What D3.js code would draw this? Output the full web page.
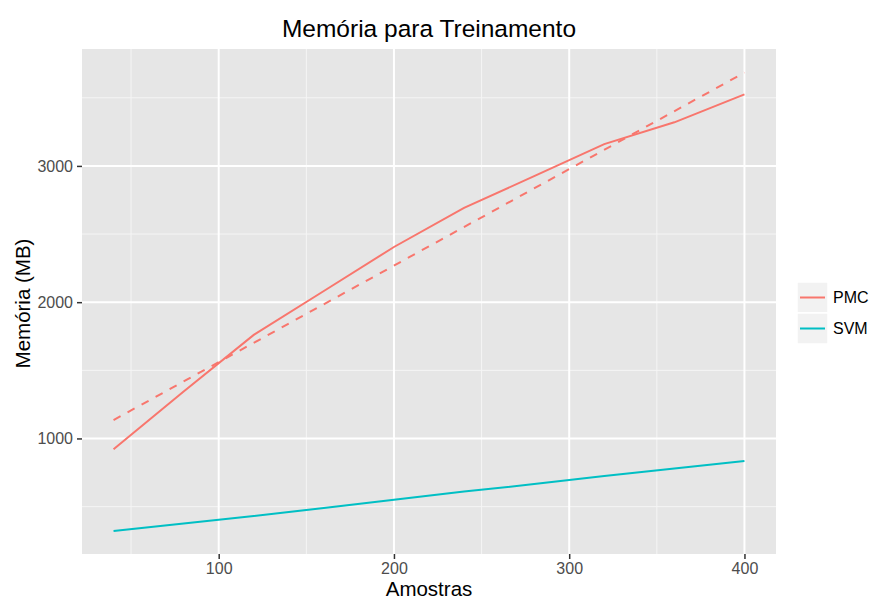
<!DOCTYPE html>
<html>
<head>
<meta charset="utf-8">
<script src="https://cdn.jsdelivr.net/npm/d3@7"></script>
<style>
  html, body { margin: 0; padding: 0; background: #ffffff; }
  svg { display: block; font-family: "Liberation Sans", Arial, Helvetica, sans-serif; }
</style>
</head>
<body>
<svg id="chart" width="871" height="601"></svg>
<script>
// Training memory (MB) against number of samples
const amostras = [40, 80, 120, 160, 200, 240, 280, 320, 360, 400];
const memoriaPMC = [920, 1345, 1760, 2082, 2405, 2692, 2925, 3160, 3320, 3525];
const memoriaSVM = [320, 375, 430, 490, 550, 610, 665, 725, 780, 835];
// Straight reference trend for PMC (dashed), given by its end points
const tendenciaX = [40, 400];
const tendenciaPMC = [1135, 3685];

const xTicks = [100, 200, 300, 400];
const xMinor = [50, 150, 250, 350];
const yTicks = [1000, 2000, 3000];
const yMinor = [500, 1500, 2500, 3500];

const seriesNames = ["PMC", "SVM"];
const seriesColors = ["#F8766D", "#00BFC4"];

const svg = d3.select("#chart");
const panel = { left: 82, right: 776, top: 49, bottom: 554 };

const x = d3.scaleLinear().domain([22, 418]).range([panel.left, panel.right]);
const y = d3.scaleLinear().domain([152, 3858]).range([panel.bottom, panel.top]);

// Panel background
svg.append("rect")
  .attr("x", panel.left).attr("y", panel.top)
  .attr("width", panel.right - panel.left)
  .attr("height", panel.bottom - panel.top)
  .attr("fill", "#E6E6E6");

const grid = svg.append("g");
// minor grid
grid.selectAll("line.xminor").data(xMinor).join("line")
  .attr("x1", d => x(d)).attr("x2", d => x(d))
  .attr("y1", panel.top).attr("y2", panel.bottom)
  .attr("stroke", "#F5F5F5").attr("stroke-width", 1);
grid.selectAll("line.yminor").data(yMinor).join("line")
  .attr("y1", d => y(d)).attr("y2", d => y(d))
  .attr("x1", panel.left).attr("x2", panel.right)
  .attr("stroke", "#F5F5F5").attr("stroke-width", 1);
// major grid
grid.selectAll("line.xmajor").data(xTicks).join("line")
  .attr("x1", d => x(d)).attr("x2", d => x(d))
  .attr("y1", panel.top).attr("y2", panel.bottom)
  .attr("stroke", "#ffffff").attr("stroke-width", 2);
grid.selectAll("line.ymajor").data(yTicks).join("line")
  .attr("y1", d => y(d)).attr("y2", d => y(d))
  .attr("x1", panel.left).attr("x2", panel.right)
  .attr("stroke", "#ffffff").attr("stroke-width", 2);

// Axes
const xAxis = svg.append("g")
  .attr("transform", `translate(0,${panel.bottom})`)
  .call(d3.axisBottom(x).tickValues(xTicks).tickSize(5).tickPadding(4).tickFormat(d3.format("d")));
const yAxis = svg.append("g")
  .attr("transform", `translate(${panel.left},0)`)
  .call(d3.axisLeft(y).tickValues(yTicks).tickSize(5).tickPadding(4).tickFormat(d3.format("d")));
[xAxis, yAxis].forEach(a => {
  a.select(".domain").remove();
  a.selectAll(".tick line").attr("stroke", "#333333").attr("stroke-width", 1.5);
  a.selectAll(".tick text")
    .attr("fill", "#4D4D4D")
    .style("font-size", "16px")
    .style("font-family", "\"Liberation Sans\", Arial, sans-serif");
});

// Lines
const line = d3.line().x(d => x(d[0])).y(d => y(d[1]));
const plot = svg.append("g");

plot.append("path")
  .datum(tendenciaX.map((v, i) => [v, tendenciaPMC[i]]))
  .attr("d", line)
  .attr("fill", "none")
  .attr("stroke", seriesColors[0])
  .attr("stroke-width", 2)
  .attr("stroke-dasharray", "8,8");

plot.append("path")
  .datum(amostras.map((v, i) => [v, memoriaPMC[i]]))
  .attr("d", line)
  .attr("fill", "none")
  .attr("stroke", seriesColors[0])
  .attr("stroke-width", 2);

plot.append("path")
  .datum(amostras.map((v, i) => [v, memoriaSVM[i]]))
  .attr("d", line)
  .attr("fill", "none")
  .attr("stroke", seriesColors[1])
  .attr("stroke-width", 2);

// Titles
svg.append("text")
  .attr("x", (panel.left + panel.right) / 2).attr("y", 37)
  .attr("text-anchor", "middle")
  .style("font-size", "24.5px")
  .attr("fill", "#000000")
  .text("Memória para Treinamento");

svg.append("text")
  .attr("x", (panel.left + panel.right) / 2).attr("y", 596)
  .attr("text-anchor", "middle")
  .style("font-size", "20.5px")
  .attr("fill", "#000000")
  .text("Amostras");

svg.append("text")
  .attr("transform", `translate(30,${(panel.top + panel.bottom) / 2 + 2}) rotate(-90)`)
  .attr("text-anchor", "middle")
  .style("font-size", "20.5px")
  .attr("fill", "#000000")
  .text("Memória (MB)");

// Legend
const legend = svg.append("g").attr("transform", "translate(797,282)");
const keySize = 31;
seriesNames.forEach((name, i) => {
  const g = legend.append("g").attr("transform", `translate(0,${i * keySize})`);
  g.append("rect")
    .attr("width", keySize).attr("height", keySize)
    .attr("fill", "#F2F2F2").attr("stroke", "#ffffff").attr("stroke-width", 1.5);
  g.append("line")
    .attr("x1", 3).attr("x2", keySize - 3)
    .attr("y1", keySize / 2).attr("y2", keySize / 2)
    .attr("stroke", seriesColors[i]).attr("stroke-width", 2);
  g.append("text")
    .attr("x", keySize + 5).attr("y", keySize / 2)
    .attr("dy", "0.35em")
    .style("font-size", "16px")
    .attr("fill", "#000000")
    .text(name);
});
</script>
</body>
</html>
